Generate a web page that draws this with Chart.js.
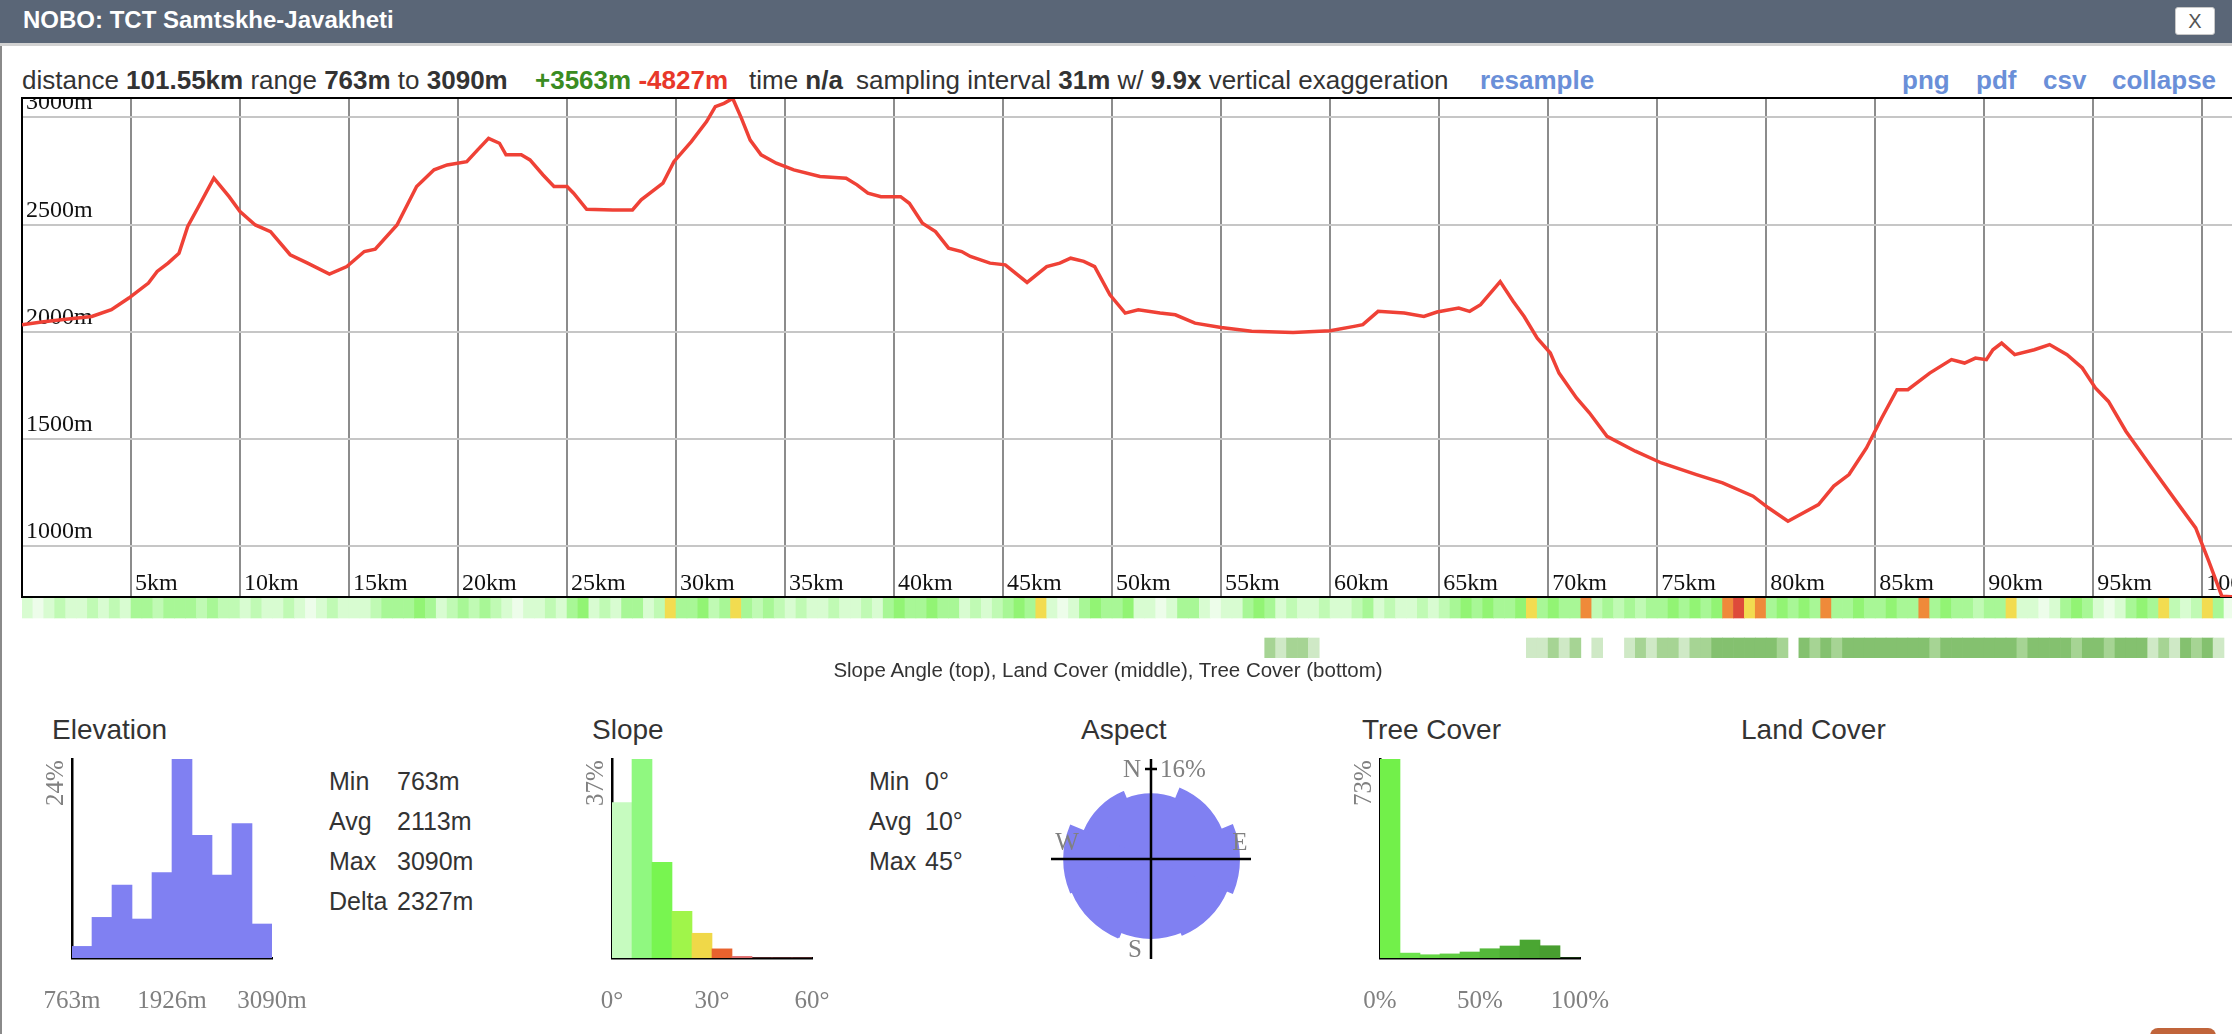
<!DOCTYPE html>
<html>
<head>
<meta charset="utf-8">
<title>NOBO: TCT Samtskhe-Javakheti</title>
<script src="https://cdn.jsdelivr.net/npm/chart.js@4.4.1/dist/chart.umd.min.js"></script>
<style>
  html, body { margin: 0; padding: 0; }
  body {
    width: 2232px; height: 1034px; overflow: hidden; position: relative;
    background: #fff; color: #333;
    font-family: "Liberation Sans", Arial, sans-serif;
  }
  .abs { position: absolute; white-space: nowrap; }
  canvas { position: absolute; }
  #titlebar { left: 0; top: 0; width: 2232px; height: 43px; background: #5a6677; border-bottom: 3px solid #d2d2d2; }
  #title { left: 23px; top: 5px; font: bold 24px/30px "Liberation Sans", Arial, sans-serif; color: #fff; }
  #closeBtn {
    left: 2175px; top: 7px; width: 38px; height: 26px; background: #fff; border: 1px solid #c8c8c8;
    border-radius: 3px; font: 20px/26px "Liberation Sans", Arial, sans-serif; color: #555; text-align: center;
  }
  #frameLeft { left: 0; top: 46px; width: 2px; height: 988px; background: #8a8a8a; }
  .stat { top: 65px; font-size: 26px; line-height: 30px; color: #333; }
  .stat b { color: #333; }
  .up { color: #3a8c22 !important; }
  .down { color: #e8382a !important; }
  .link { color: #6a8fd8; font-weight: bold; }
  .ptitle { top: 713px; font-size: 28px; line-height: 34px; color: #333; }
  .prow { font-size: 25px; line-height: 30px; color: #333; }
  #caption { left: 808px; width: 600px; top: 658px; font-size: 20.5px; line-height: 24px; text-align: center; color: #333; }
  #cornerBtn { left: 2150px; top: 1028px; width: 66px; height: 20px; background: #c0643a; border-radius: 8px; }
</style>
</head>
<body>
<div id="titlebar" class="abs"></div>
<div id="title" class="abs">NOBO: TCT Samtskhe-Javakheti</div>
<div id="closeBtn" class="abs">X</div>
<div id="frameLeft" class="abs"></div>

<div class="abs stat" style="left:22px">distance <b>101.55km</b> range <b>763m</b> to <b>3090m</b></div>
<div class="abs stat" style="left:535px"><b class="up">+3563m</b> <b class="down">-4827m</b></div>
<div class="abs stat" style="left:749px">time <b>n/a</b></div>
<div class="abs stat" style="left:856px">sampling interval <b>31m</b> w/ <b>9.9x</b> vertical exaggeration</div>
<div class="abs stat link" style="left:1480px">resample</div>
<div class="abs stat link" style="left:1902px">png</div>
<div class="abs stat link" style="left:1976px">pdf</div>
<div class="abs stat link" style="left:2043px">csv</div>
<div class="abs stat link" style="left:2112px">collapse</div>

<canvas id="profile" width="2219" height="503" style="left:20px; top:96px"></canvas>
<canvas id="strips" width="2219" height="64" style="left:20px; top:596px"></canvas>
<div id="caption" class="abs">Slope Angle (top), Land Cover (middle), Tree Cover (bottom)</div>

<div class="abs ptitle" style="left:52px">Elevation</div>
<div class="abs ptitle" style="left:592px">Slope</div>
<div class="abs ptitle" style="left:1081px">Aspect</div>
<div class="abs ptitle" style="left:1362px">Tree Cover</div>
<div class="abs ptitle" style="left:1741px">Land Cover</div>

<canvas id="elevHist" width="290" height="280" style="left:30px; top:745px"></canvas>
<canvas id="slopeHist" width="290" height="280" style="left:570px; top:745px"></canvas>
<canvas id="aspectRose" width="220" height="220" style="left:1041px; top:749px"></canvas>
<canvas id="treeHist" width="290" height="280" style="left:1338px; top:745px"></canvas>

<div class="abs prow" style="left:329px; top:766px">Min</div><div class="abs prow" style="left:397px; top:766px">763m</div>
<div class="abs prow" style="left:329px; top:806px">Avg</div><div class="abs prow" style="left:397px; top:806px">2113m</div>
<div class="abs prow" style="left:329px; top:846px">Max</div><div class="abs prow" style="left:397px; top:846px">3090m</div>
<div class="abs prow" style="left:329px; top:886px">Delta</div><div class="abs prow" style="left:397px; top:886px">2327m</div>

<div class="abs prow" style="left:869px; top:766px">Min</div><div class="abs prow" style="left:925px; top:766px">0°</div>
<div class="abs prow" style="left:869px; top:806px">Avg</div><div class="abs prow" style="left:925px; top:806px">10°</div>
<div class="abs prow" style="left:869px; top:846px">Max</div><div class="abs prow" style="left:925px; top:846px">45°</div>

<div id="cornerBtn" class="abs"></div>

<script>
(() => {
  "use strict";

  // Elevation profile (km along track, metres)
  const distKm = [0, 0.9, 1.8, 3.2, 4.1, 4.9, 5.8, 6.2, 6.7, 7.2, 7.6, 8.1, 8.8, 9.5, 10.0,
    10.7, 11.4, 12.3, 13.1, 14.1, 14.9, 15.7, 16.2, 17.2, 18.1, 18.9, 19.5, 20.4, 20.9,
    21.4, 21.9, 22.2, 22.9, 23.3, 23.9, 24.4, 25.0, 25.3, 25.9, 27.1, 28.0, 28.4, 29.4,
    29.9, 30.7, 31.4, 31.8, 32.2, 32.6, 33.0, 33.4, 33.9, 34.6, 35.4, 36.6, 37.8, 38.3,
    38.8, 39.4, 40.3, 40.7, 41.3, 41.9, 42.5, 43.1, 43.5, 44.4, 45.1, 46.1, 47.0, 47.6,
    48.1, 48.7, 49.2, 49.9, 50.6, 51.2, 52.2, 52.9, 53.8, 55.0, 56.4, 58.3, 60.0, 61.1,
    61.5, 62.2, 63.4, 64.3, 64.9, 65.9, 66.4, 66.9, 67.8, 68.4, 68.9, 69.5, 70.1, 70.5,
    71.3, 71.9, 72.7, 74.0, 75.2, 76.8, 78.0, 79.4, 80.1, 81.0, 82.4, 83.1, 83.8, 84.6,
    85.3, 86.0, 86.5, 87.5, 88.5, 89.1, 89.6, 90.1, 90.4, 90.8, 91.4, 92.3, 93.0, 93.8,
    94.5, 95.1, 95.7, 96.5, 97.7, 98.8, 99.7, 100.3, 100.9, 101.55];
  const elevM = [2033, 2045, 2056, 2071, 2103, 2157, 2227, 2281, 2320, 2366, 2491, 2584, 2716, 2630, 2561,
    2498, 2467, 2359, 2320, 2269, 2304, 2374, 2385, 2498, 2677, 2755, 2778, 2793, 2848,
    2902, 2879, 2825, 2825, 2801, 2731, 2677, 2677, 2646, 2571, 2568, 2568, 2615, 2693,
    2793, 2887, 2980, 3050, 3065, 3088, 2995, 2894, 2825, 2786, 2755, 2724, 2716, 2685,
    2646, 2630, 2630, 2599, 2506, 2467, 2390, 2374, 2351, 2320, 2312, 2230, 2304, 2320,
    2343, 2328, 2304, 2172, 2087, 2102, 2087, 2079, 2040, 2020, 2002, 1997, 2005, 2025,
    2033, 2095, 2087, 2071, 2092, 2110, 2095, 2126, 2234, 2141, 2071, 1970, 1901, 1807,
    1691, 1621, 1512, 1443, 1388, 1334, 1295, 1233, 1179, 1116, 1194, 1280, 1334, 1458,
    1598, 1730, 1730, 1807, 1870, 1854, 1877, 1870, 1916, 1947, 1893, 1916, 1940, 1893,
    1831, 1738, 1675, 1536, 1365, 1210, 1085, 930, 767, 763];
  const xTickKm = [5, 10, 15, 20, 25, 30, 35, 40, 45, 50, 55, 60, 65, 70, 75, 80, 85, 90, 95, 100];
  const yTickM = [1000, 1500, 2000, 2500, 3000];
  const distMaxKm = 101.55;
  const elevMin = 763;
  const elevMax = 3090;

  // Strips under the profile: one digit per 0.5 km bin, one string per 5 km
  const stripBinKm = 0.5;
  const slopeClassRows = [
    "1012112121", "3323332322", "1211210121", "1123334312", "3232101121",
    "3412133125", "3342353232", "1211211213", "4334331212", "3435101343",
    "3411013310", "1134312112", "1123121121", "2343433453", "4336232323",
    "3434346756", "3434363343", "3433634332", "3351101343", "1013435212", "530"];
  const treeClassRows = [
    "0000000000", "0000000000", "0000000000", "0000000000", "0000000000",
    "0000000000", "0000000000", "0000000000", "0000000000", "0000000000",
    "0000000000", "0000212210", "0000000000", "0000000011", "2120100121",
    "2212233333", "3203232333", "3333323333", "3332333323", "3233312132", "310"];
  const slopeStripColors = ["#edfdea", "#d8fcd1", "#c0fab4", "#a8f796", "#92f474", "#f2dc50", "#ef8a3a", "#de4a3a"];
  const treeStripColors = [null, "#cfe9c6", "#a6d494", "#84c16f"];

  // Summary histograms (percent of samples per bin)
  const elevHistPct = [1.4, 4.9, 8.8, 4.7, 10.3, 24, 14.8, 10, 16.2, 4.1];
  const elevHistTicks = ["763m", "1926m", "3090m"];
  const slopeHistPct = [28.9, 37, 17.8, 8.7, 4.6, 1.7, 0.3, 0, 0, 0];
  const slopeHistTicks = ["0°", "30°", "60°"];
  const treeHistPct = [73, 1.8, 1.2, 1.5, 2.2, 3.4, 4.4, 6.6, 4.5, 0];
  const treeHistTicks = ["0%", "50%", "100%"];
  const aspectDirs = ["N", "NE", "E", "SE", "S", "SW", "W", "NW"];
  const aspectPct = [8.3, 11.4, 15.3, 13.2, 12.3, 14.3, 14.9, 10.3];
  const aspectMaxPct = 16;

  const elevColor = "#8080f2";
  const slopeHistColors = ["#c6fbbf", "#90f880", "#78f550", "#a0f54a", "#f0d848", "#e8622e", "#e07070", "#e07070", "#e07070", "#e07070"];
  const treeHistColors = ["#72f04a", "#6ce44c", "#66d846", "#60cc42", "#5ac23e", "#54b83a", "#4eae36", "#4aa632", "#489e30", "#449a2e"];

  const serif = '"Liberation Serif", "Times New Roman", serif';
  const baseOpts = {
    responsive: false,
    animation: false,
    events: [],
    plugins: { legend: { display: false }, tooltip: { enabled: false } },
  };

  // ---- main elevation profile ----
  const profileLabels = {
    id: "profileLabels",
    beforeDatasetsDraw(chart) {
      const { ctx, chartArea: a, scales } = chart;
      ctx.save();
      ctx.beginPath();
      ctx.rect(a.left, a.top, a.right - a.left, a.bottom - a.top);
      ctx.clip();
      ctx.fillStyle = "#111";
      ctx.font = "24px " + serif;
      ctx.textBaseline = "alphabetic";
      ctx.textAlign = "left";
      yTickM.forEach((v) => {
        ctx.fillText(v + "m", a.left + 4, scales.y.getPixelForValue(v) - 8);
      });
      xTickKm.forEach((v) => {
        ctx.fillText(v + "km", scales.x.getPixelForValue(v) + 4, a.bottom - 7);
      });
      ctx.restore();
    },
    afterDraw(chart) {
      // top frame line
      const { ctx, chartArea: a } = chart;
      ctx.save();
      ctx.strokeStyle = "#000";
      ctx.lineWidth = 2;
      ctx.beginPath();
      ctx.moveTo(a.left, a.top);
      ctx.lineTo(a.right, a.top);
      ctx.stroke();
      ctx.restore();
    },
  };

  new Chart(document.getElementById("profile"), {
    type: "line",
    data: {
      datasets: [{
        data: distKm.map((d, i) => ({ x: d, y: elevM[i] })),
        borderColor: "#ef4136",
        borderWidth: 3.5,
        pointRadius: 0,
        tension: 0,
        fill: false,
      }],
    },
    options: {
      ...baseOpts,
      layout: { padding: { left: 2, top: 2, right: 3, bottom: 2 } },
      scales: {
        x: {
          type: "linear", min: 0, max: distMaxKm,
          afterBuildTicks: (s) => { s.ticks = xTickKm.map((v) => ({ value: v })); },
          grid: { color: "#8c8c8c", lineWidth: 2, drawTicks: false },
          border: { display: true, color: "#000", width: 2 },
          ticks: { display: false },
        },
        y: {
          type: "linear", min: elevMin, max: elevMax,
          afterBuildTicks: (s) => { s.ticks = yTickM.map((v) => ({ value: v })); },
          grid: { color: "#c6c6c6", lineWidth: 2, drawTicks: false },
          border: { display: true, color: "#000", width: 2 },
          ticks: { display: false },
        },
      },
    },
    plugins: [profileLabels],
  });

  // ---- slope / land / tree strips (rows: 2 = slope, 1 = land cover, 0 = tree cover) ----
  const slopeBins = slopeClassRows.join("").split("").map(Number);
  const treeBins = treeClassRows.join("").split("").map(Number);
  const binCenter = (i) => (i + 0.5) * stripBinKm;
  const treeIdx = treeBins.map((c, i) => i).filter((i) => treeBins[i] > 0);

  new Chart(document.getElementById("strips"), {
    type: "bar",
    data: {
      datasets: [
        {
          data: slopeBins.map((c, i) => ({ x: binCenter(i), y: [2, 3] })),
          backgroundColor: slopeBins.map((c) => slopeStripColors[c]),
        },
        {
          data: treeIdx.map((i) => ({ x: binCenter(i), y: [0, 1] })),
          backgroundColor: treeIdx.map((i) => treeStripColors[treeBins[i]]),
        },
      ],
    },
    options: {
      ...baseOpts,
      layout: { padding: { left: 2, top: 2, right: 3, bottom: 2 } },
      datasets: { bar: { grouped: false, barPercentage: 1, categoryPercentage: 1, borderWidth: 0 } },
      scales: {
        x: { type: "linear", min: 0, max: distMaxKm, offset: false, display: false },
        y: { type: "linear", min: 0, max: 3, display: false },
      },
    },
  });

  // ---- histograms ----
  function histLabels(maxText, tickTexts) {
    return {
      id: "histLabels",
      afterDraw(chart) {
        const { ctx, chartArea: a } = chart;
        ctx.save();
        ctx.fillStyle = "#808080";
        ctx.font = "25px " + serif;
        ctx.textAlign = "center";
        ctx.textBaseline = "middle";
        const xs = [a.left, (a.left + a.right) / 2, a.right];
        tickTexts.forEach((t, i) => ctx.fillText(t, xs[i], a.bottom + 43));
        ctx.translate(a.left - 16, a.top + 24);
        ctx.rotate(-Math.PI / 2);
        ctx.fillText(maxText, 0, 0);
        ctx.restore();
      },
    };
  }

  function makeHist(id, values, colors, ticks) {
    const maxVal = Math.max(...values);
    new Chart(document.getElementById(id), {
      type: "bar",
      data: {
        labels: values.map((v, i) => i),
        datasets: [{
          data: values,
          backgroundColor: colors,
          barPercentage: 1,
          categoryPercentage: 1,
          borderWidth: 0,
        }],
      },
      options: {
        ...baseOpts,
        layout: { padding: { left: 42, top: 14, right: 48, bottom: 67 } },
        scales: {
          x: {
            grid: { display: false, drawTicks: false },
            ticks: { display: false },
            border: { display: true, color: "#000", width: 2.5 },
          },
          y: {
            min: 0, max: maxVal,
            grid: { display: false, drawTicks: false },
            ticks: { display: false },
            border: { display: true, color: "#000", width: 2.5 },
          },
        },
      },
      plugins: [histLabels(Math.round(maxVal) + "%", ticks)],
    });
  }

  makeHist("elevHist", elevHistPct, elevColor, elevHistTicks);
  makeHist("slopeHist", slopeHistPct, slopeHistColors, slopeHistTicks);
  makeHist("treeHist", treeHistPct, treeHistColors, treeHistTicks);

  // ---- aspect rose (radius ~ sqrt of share, so area follows the percentage) ----
  const aspectAxes = {
    id: "aspectAxes",
    afterDatasetsDraw(chart) {
      const { ctx } = chart;
      const r = chart.scales.r;
      const cx = r.xCenter;
      const cy = r.yCenter;
      const tickR = r.getDistanceFromCenterForValue(Math.sqrt(aspectMaxPct));
      const arm = tickR + 10;
      ctx.save();
      ctx.strokeStyle = "#000";
      ctx.lineWidth = 2.5;
      ctx.beginPath();
      ctx.moveTo(cx, cy - arm); ctx.lineTo(cx, cy + arm);
      ctx.moveTo(cx - arm, cy); ctx.lineTo(cx + arm, cy);
      ctx.moveTo(cx - 6, cy - tickR); ctx.lineTo(cx + 6, cy - tickR);
      ctx.stroke();
      ctx.fillStyle = "#808080";
      ctx.font = "25px " + serif;
      ctx.textBaseline = "middle";
      ctx.textAlign = "center";
      ctx.fillText("N", cx - 19, cy - tickR + 1);
      ctx.fillText("W", cx - 84, cy - 16);
      ctx.fillText("E", cx + 89, cy - 16);
      ctx.fillText("S", cx - 16, cy + 91);
      ctx.textAlign = "left";
      ctx.fillText(aspectMaxPct + "%", cx + 9, cy - tickR + 1);
      ctx.restore();
    },
  };

  new Chart(document.getElementById("aspectRose"), {
    type: "polarArea",
    data: {
      labels: aspectDirs,
      datasets: [{
        data: aspectPct.map((p) => Math.sqrt(p)),
        backgroundColor: elevColor,
        borderColor: elevColor,
        borderWidth: 2,
        borderJoinStyle: "miter",
      }],
    },
    options: {
      ...baseOpts,
      layout: { padding: 20 },
      scales: {
        r: { display: false, min: 0, max: Math.sqrt(aspectMaxPct), startAngle: -22.5 },
      },
    },
    plugins: [aspectAxes],
  });
})();
</script>
</body>
</html>
